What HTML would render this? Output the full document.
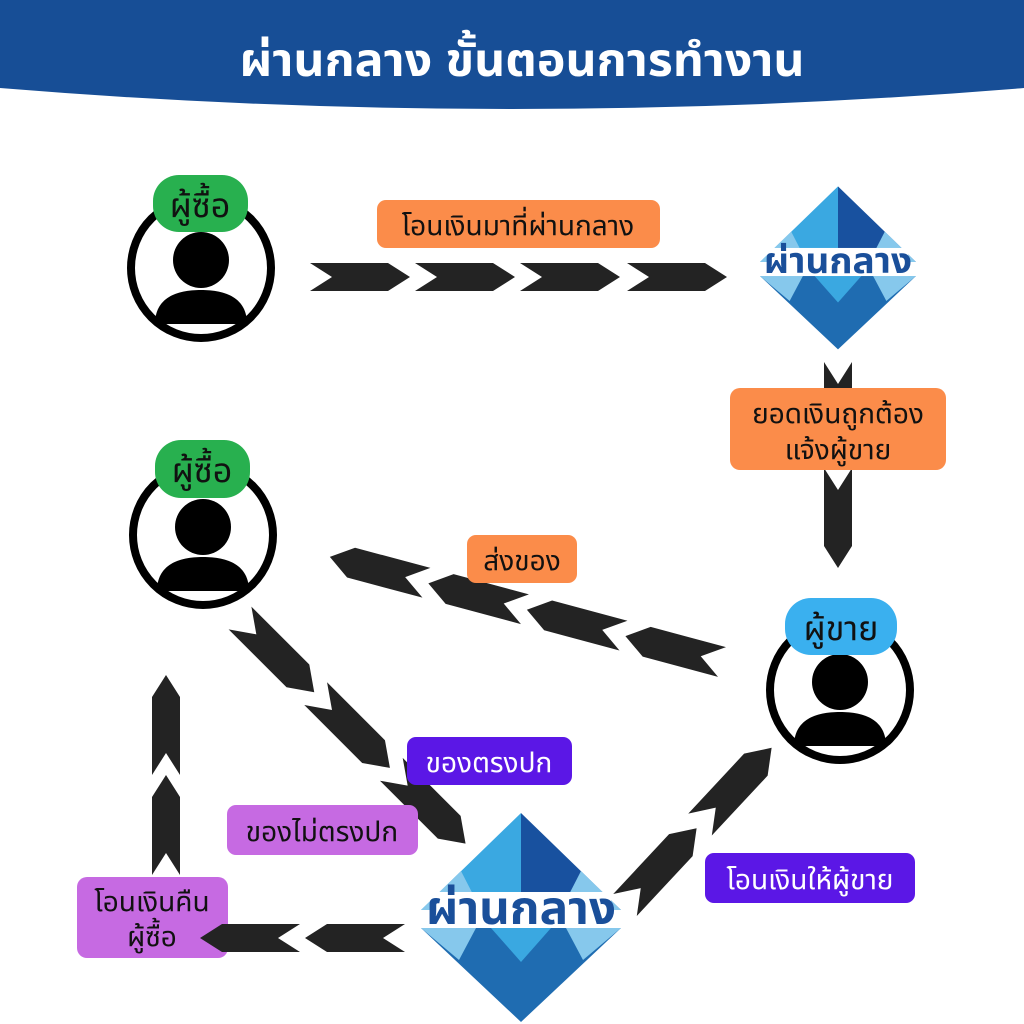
<!DOCTYPE html>
<html><head><meta charset="utf-8"><style>
html,body{margin:0;padding:0;background:#fff}
svg{display:block}
text{font-family:"Liberation Sans","Noto Sans CJK SC","Noto Sans Thai","DejaVu Sans",sans-serif}
</style></head><body>
<svg width="1024" height="1024" viewBox="0 0 1024 1024" xmlns="http://www.w3.org/2000/svg">
<defs>
<polygon id="ch" points="0,-14 78,-14 100,0 78,14 0,14 22,0" fill="#232323"/>
<g id="logo">
  <polygon points="0,-97 -100,0 0,0" fill="#3aa8e1"/>
  <polygon points="0,-97 100,0 0,0" fill="#18519f"/>
  <polygon points="-100,0 -60,-39 -40,0" fill="#86c8ec"/>
  <polygon points="100,0 60,-39 40,0" fill="#86c8ec"/>
  <polygon points="-100,18 100,18 0,112" fill="#1f6cb1"/>
  <polygon points="-100,18 -45,18 -62,50" fill="#86c8ec"/>
  <polygon points="100,18 45,18 62,50" fill="#86c8ec"/>
  <polygon points="-30,18 30,18 0,52" fill="#3aa8e1"/>
  <rect x="-90" y="-18" width="180" height="36" fill="#fff"/>
  <text x="0" y="14" text-anchor="middle" font-size="46" font-weight="bold" fill="#1a4f9a" textLength="190" lengthAdjust="spacingAndGlyphs">ผ่านกลาง</text>
</g>
<g id="person">
  <circle r="70" fill="#fff" stroke="#000" stroke-width="8"/>
  <circle cx="0" cy="-8" r="28" fill="#000"/>
  <path d="M-46,56 C-46,30 -25,22 0,22 C25,22 46,30 46,56 Z" fill="#000"/>
</g>
</defs>
<path d="M0,0 H1024 V88 Q512,130 0,88 Z" fill="#174e96"/>
<text x="522" y="76" text-anchor="middle" font-size="46" font-weight="bold" fill="#fff" textLength="565" lengthAdjust="spacingAndGlyphs">ผ่านกลาง ขั้นตอนการทำงาน</text>

<use href="#ch" transform="translate(310,277)"/>
<use href="#ch" transform="translate(415,277)"/>
<use href="#ch" transform="translate(520,277)"/>
<use href="#ch" transform="translate(627,277)"/>
<use href="#ch" transform="translate(838,362) rotate(90)"/>
<use href="#ch" transform="translate(838,468) rotate(90)"/>
<g transform="translate(722,662) rotate(195)">
<use href="#ch" transform="translate(0,0) scale(1,1.1)"/>
<use href="#ch" transform="translate(102,0) scale(1,1.1)"/>
<use href="#ch" transform="translate(204,0) scale(1,1.1)"/>
<use href="#ch" transform="translate(306,0) scale(1,1.1)"/>
</g>
<g transform="translate(240,618) rotate(45)">
<use href="#ch" transform="translate(0,0) scale(1.05,1.15)"/>
<use href="#ch" transform="translate(107,0) scale(1.05,1.15)"/>
<use href="#ch" transform="translate(214,0) scale(1.05,1.15)"/>
</g>
<g transform="translate(625,905) rotate(-47)">
<use href="#ch" transform="translate(0,0) scale(1.05,1.15)"/>
<use href="#ch" transform="translate(110,0) scale(1.05,1.15)"/>
</g>
<use href="#ch" transform="translate(405,938) rotate(180)"/>
<use href="#ch" transform="translate(166,875) rotate(-90)"/>
<use href="#ch" transform="translate(166,775) rotate(-90)"/>

<use href="#person" transform="translate(201,268)"/>
<use href="#person" transform="translate(203,535)"/>
<use href="#person" transform="translate(840,690)"/>

<use href="#logo" transform="translate(838,262) scale(0.78)"/>
<use href="#logo" transform="translate(521,910)"/>

<rect x="153" y="175" width="95" height="57" rx="26" fill="#28b04f"/>
<text x="200" y="217" text-anchor="middle" font-size="34" fill="#111">ผู้ซื้อ</text>
<rect x="155" y="440" width="95" height="58" rx="26" fill="#28b04f"/>
<text x="202" y="482" text-anchor="middle" font-size="34" fill="#111">ผู้ซื้อ</text>
<rect x="785" y="598" width="112" height="57" rx="26" fill="#3ab0ef"/>
<text x="841" y="640" text-anchor="middle" font-size="34" fill="#111">ผู้ขาย</text>

<rect x="377" y="200" width="283" height="48" rx="9" fill="#fb8c4a"/>
<text x="518" y="235" text-anchor="middle" font-size="28" fill="#111">โอนเงินมาที่ผ่านกลาง</text>
<rect x="730" y="388" width="216" height="82" rx="10" fill="#fb8c4a"/>
<text x="838" y="423" text-anchor="middle" font-size="28" fill="#111">ยอดเงินถูกต้อง</text>
<text x="838" y="459" text-anchor="middle" font-size="28" fill="#111">แจ้งผู้ขาย</text>
<rect x="467" y="535" width="110" height="48" rx="9" fill="#fb8c4a"/>
<text x="522" y="570" text-anchor="middle" font-size="28" fill="#111">ส่งของ</text>

<rect x="407" y="737" width="165" height="48" rx="9" fill="#5b17e6"/>
<text x="489" y="772" text-anchor="middle" font-size="28" fill="#fff">ของตรงปก</text>
<rect x="705" y="853" width="210" height="50" rx="9" fill="#5b17e6"/>
<text x="810" y="889" text-anchor="middle" font-size="28" fill="#fff">โอนเงินให้ผู้ขาย</text>
<rect x="227" y="805" width="191" height="50" rx="9" fill="#c66ae2"/>
<text x="322" y="841" text-anchor="middle" font-size="28" fill="#111">ของไม่ตรงปก</text>
<rect x="77" y="877" width="151" height="81" rx="10" fill="#c66ae2"/>
<text x="152" y="911" text-anchor="middle" font-size="28" fill="#111">โอนเงินคืน</text>
<text x="152" y="946" text-anchor="middle" font-size="28" fill="#111">ผู้ซื้อ</text>
<use href="#ch" transform="translate(300,938) rotate(180)"/>
</svg>
</body></html>
